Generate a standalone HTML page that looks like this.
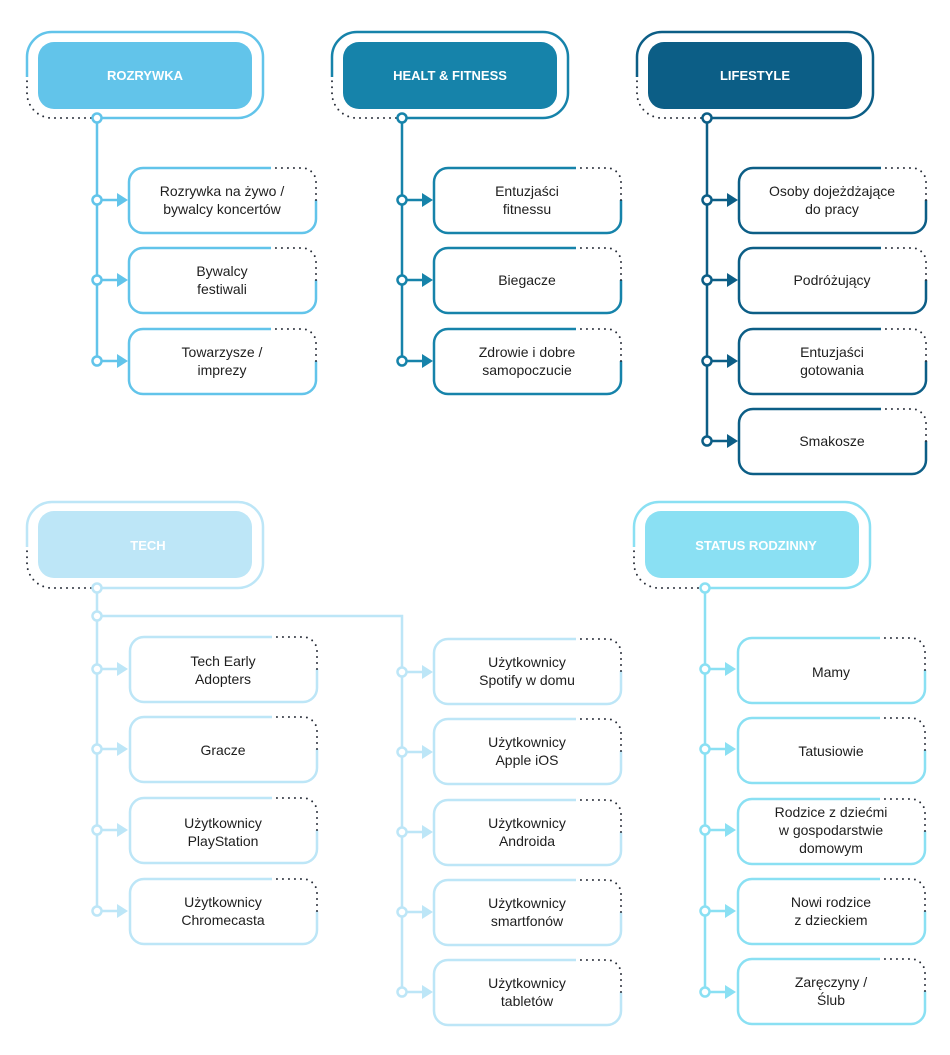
<!DOCTYPE html>
<html><head><meta charset="utf-8"><style>
html,body{margin:0;padding:0;background:#fff;}
svg{display:block;}
text{font-family:"Liberation Sans",sans-serif;}
.t{font-size:14px;fill:#1e1e1e;text-anchor:middle;}
.h{font-size:13px;fill:#fff;font-weight:bold;text-anchor:middle;}
.d{fill:none;stroke:#2a2f3a;stroke-width:2;stroke-dasharray:0 6;stroke-linecap:round;}
</style></head><body>
<svg width="950" height="1055" viewBox="0 0 950 1055" xmlns="http://www.w3.org/2000/svg">
<defs>
<g id="box">
<path d="M142 0 H14 A14 14 0 0 0 0 14 V51 A14 14 0 0 0 14 65 H173 A14 14 0 0 0 187 51 V32" fill="none" stroke="currentColor" stroke-width="2.5"/>
<path d="M187 32 V14 A14 14 0 0 0 173 0 H142" class="d"/>
</g>
<g id="hdr">
<path d="M0 45 V25 A25 25 0 0 1 25 0 H211 A25 25 0 0 1 236 25 V61 A25 25 0 0 1 211 86 H75" fill="none" stroke="currentColor" stroke-width="2.5"/>
<path d="M64 86 H25 A25 25 0 0 1 0 61 V45" class="d"/>
</g>
<g id="con">
<circle cx="0" cy="0" r="4.5" fill="#fff" stroke="currentColor" stroke-width="2.5"/>
<line x1="4.5" y1="0" x2="21" y2="0" stroke="currentColor" stroke-width="2.5"/>
<polygon points="20,-7 31,0 20,7" fill="currentColor"/>
</g>
<circle id="dot" cx="0" cy="0" r="4.5" fill="#fff" stroke="currentColor" stroke-width="2.5"/>
</defs>

<!-- ROZRYWKA -->
<g color="#62c4ea">
<use href="#hdr" x="27" y="32"/>
<rect x="38" y="42" width="214" height="67" rx="16" fill="#62c4ea"/>
<line x1="97" y1="118" x2="97" y2="361" stroke="currentColor" stroke-width="2.5"/>
<use href="#dot" x="97" y="118"/>
<use href="#con" x="97" y="200"/><use href="#con" x="97" y="280"/><use href="#con" x="97" y="361"/>
<use href="#box" x="129" y="168"/><use href="#box" x="129" y="248"/><use href="#box" x="129" y="329"/>
</g>
<text class="h" x="145" y="80">ROZRYWKA</text>
<text class="t" x="222" y="196">Rozrywka na żywo /</text><text class="t" x="222" y="214">bywalcy koncertów</text>
<text class="t" x="222" y="276">Bywalcy</text><text class="t" x="222" y="294">festiwali</text>
<text class="t" x="222" y="357">Towarzysze /</text><text class="t" x="222" y="375">imprezy</text>

<!-- HEALT -->
<g color="#1683aa">
<use href="#hdr" x="332" y="32"/>
<rect x="343" y="42" width="214" height="67" rx="16" fill="#1683aa"/>
<line x1="402" y1="118" x2="402" y2="361" stroke="currentColor" stroke-width="2.5"/>
<use href="#dot" x="402" y="118"/>
<use href="#con" x="402" y="200"/><use href="#con" x="402" y="280"/><use href="#con" x="402" y="361"/>
<use href="#box" x="434" y="168"/><use href="#box" x="434" y="248"/><use href="#box" x="434" y="329"/>
</g>
<text class="h" x="450" y="80">HEALT &amp; FITNESS</text>
<text class="t" x="527" y="196">Entuzjaści</text><text class="t" x="527" y="214">fitnessu</text>
<text class="t" x="527" y="285">Biegacze</text>
<text class="t" x="527" y="357">Zdrowie i dobre</text><text class="t" x="527" y="375">samopoczucie</text>

<!-- LIFESTYLE -->
<g color="#0c5e86">
<use href="#hdr" x="637" y="32"/>
<rect x="648" y="42" width="214" height="67" rx="16" fill="#0c5e86"/>
<line x1="707" y1="118" x2="707" y2="441" stroke="currentColor" stroke-width="2.5"/>
<use href="#dot" x="707" y="118"/>
<use href="#con" x="707" y="200"/><use href="#con" x="707" y="280"/><use href="#con" x="707" y="361"/><use href="#con" x="707" y="441"/>
<use href="#box" x="739" y="168"/><use href="#box" x="739" y="248"/><use href="#box" x="739" y="329"/><use href="#box" x="739" y="409"/>
</g>
<text class="h" x="755" y="80">LIFESTYLE</text>
<text class="t" x="832" y="196">Osoby dojeżdżające</text><text class="t" x="832" y="214">do pracy</text>
<text class="t" x="832" y="285">Podróżujący</text>
<text class="t" x="832" y="357">Entuzjaści</text><text class="t" x="832" y="375">gotowania</text>
<text class="t" x="832" y="446">Smakosze</text>

<!-- TECH -->
<g color="#bde6f7">
<use href="#hdr" x="27" y="502"/>
<rect x="38" y="511" width="214" height="67" rx="16" fill="#bde6f7"/>
<line x1="97" y1="588" x2="97" y2="911" stroke="currentColor" stroke-width="2.5"/>
<path d="M97 616 H402 V992" fill="none" stroke="currentColor" stroke-width="2.5"/>
<use href="#dot" x="97" y="588"/><use href="#dot" x="97" y="616"/>
<use href="#con" x="97" y="669"/><use href="#con" x="97" y="749"/><use href="#con" x="97" y="830"/><use href="#con" x="97" y="911"/>
<use href="#con" x="402" y="672"/><use href="#con" x="402" y="752"/><use href="#con" x="402" y="832"/><use href="#con" x="402" y="912"/><use href="#con" x="402" y="992"/>
<use href="#box" x="130" y="637"/><use href="#box" x="130" y="717"/><use href="#box" x="130" y="798"/><use href="#box" x="130" y="879"/>
<use href="#box" x="434" y="639"/><use href="#box" x="434" y="719"/><use href="#box" x="434" y="800"/><use href="#box" x="434" y="880"/><use href="#box" x="434" y="960"/>
</g>
<text class="h" x="148" y="550">TECH</text>
<text class="t" x="223" y="666">Tech Early</text><text class="t" x="223" y="684">Adopters</text>
<text class="t" x="223" y="755">Gracze</text>
<text class="t" x="223" y="828">Użytkownicy</text><text class="t" x="223" y="846">PlayStation</text>
<text class="t" x="223" y="907">Użytkownicy</text><text class="t" x="223" y="925">Chromecasta</text>
<text class="t" x="527" y="667">Użytkownicy</text><text class="t" x="527" y="685">Spotify w domu</text>
<text class="t" x="527" y="747">Użytkownicy</text><text class="t" x="527" y="765">Apple iOS</text>
<text class="t" x="527" y="828">Użytkownicy</text><text class="t" x="527" y="846">Androida</text>
<text class="t" x="527" y="908">Użytkownicy</text><text class="t" x="527" y="926">smartfonów</text>
<text class="t" x="527" y="988">Użytkownicy</text><text class="t" x="527" y="1006">tabletów</text>

<!-- STATUS -->
<g color="#8ae0f3">
<use href="#hdr" x="634" y="502"/>
<rect x="645" y="511" width="214" height="67" rx="16" fill="#8ae0f3"/>
<line x1="705" y1="588" x2="705" y2="992" stroke="currentColor" stroke-width="2.5"/>
<use href="#dot" x="705" y="588"/>
<use href="#con" x="705" y="669"/><use href="#con" x="705" y="749"/><use href="#con" x="705" y="830"/><use href="#con" x="705" y="911"/><use href="#con" x="705" y="992"/>
<use href="#box" x="738" y="638"/><use href="#box" x="738" y="718"/><use href="#box" x="738" y="799"/><use href="#box" x="738" y="879"/><use href="#box" x="738" y="959"/>
</g>
<text class="h" x="756" y="550">STATUS RODZINNY</text>
<text class="t" x="831" y="677">Mamy</text>
<text class="t" x="831" y="756">Tatusiowie</text>
<text class="t" x="831" y="817">Rodzice z dziećmi</text><text class="t" x="831" y="835">w gospodarstwie</text><text class="t" x="831" y="853">domowym</text>
<text class="t" x="831" y="907">Nowi rodzice</text><text class="t" x="831" y="925">z dzieckiem</text>
<text class="t" x="831" y="987">Zaręczyny /</text><text class="t" x="831" y="1005">Ślub</text>
</svg>
</body></html>
